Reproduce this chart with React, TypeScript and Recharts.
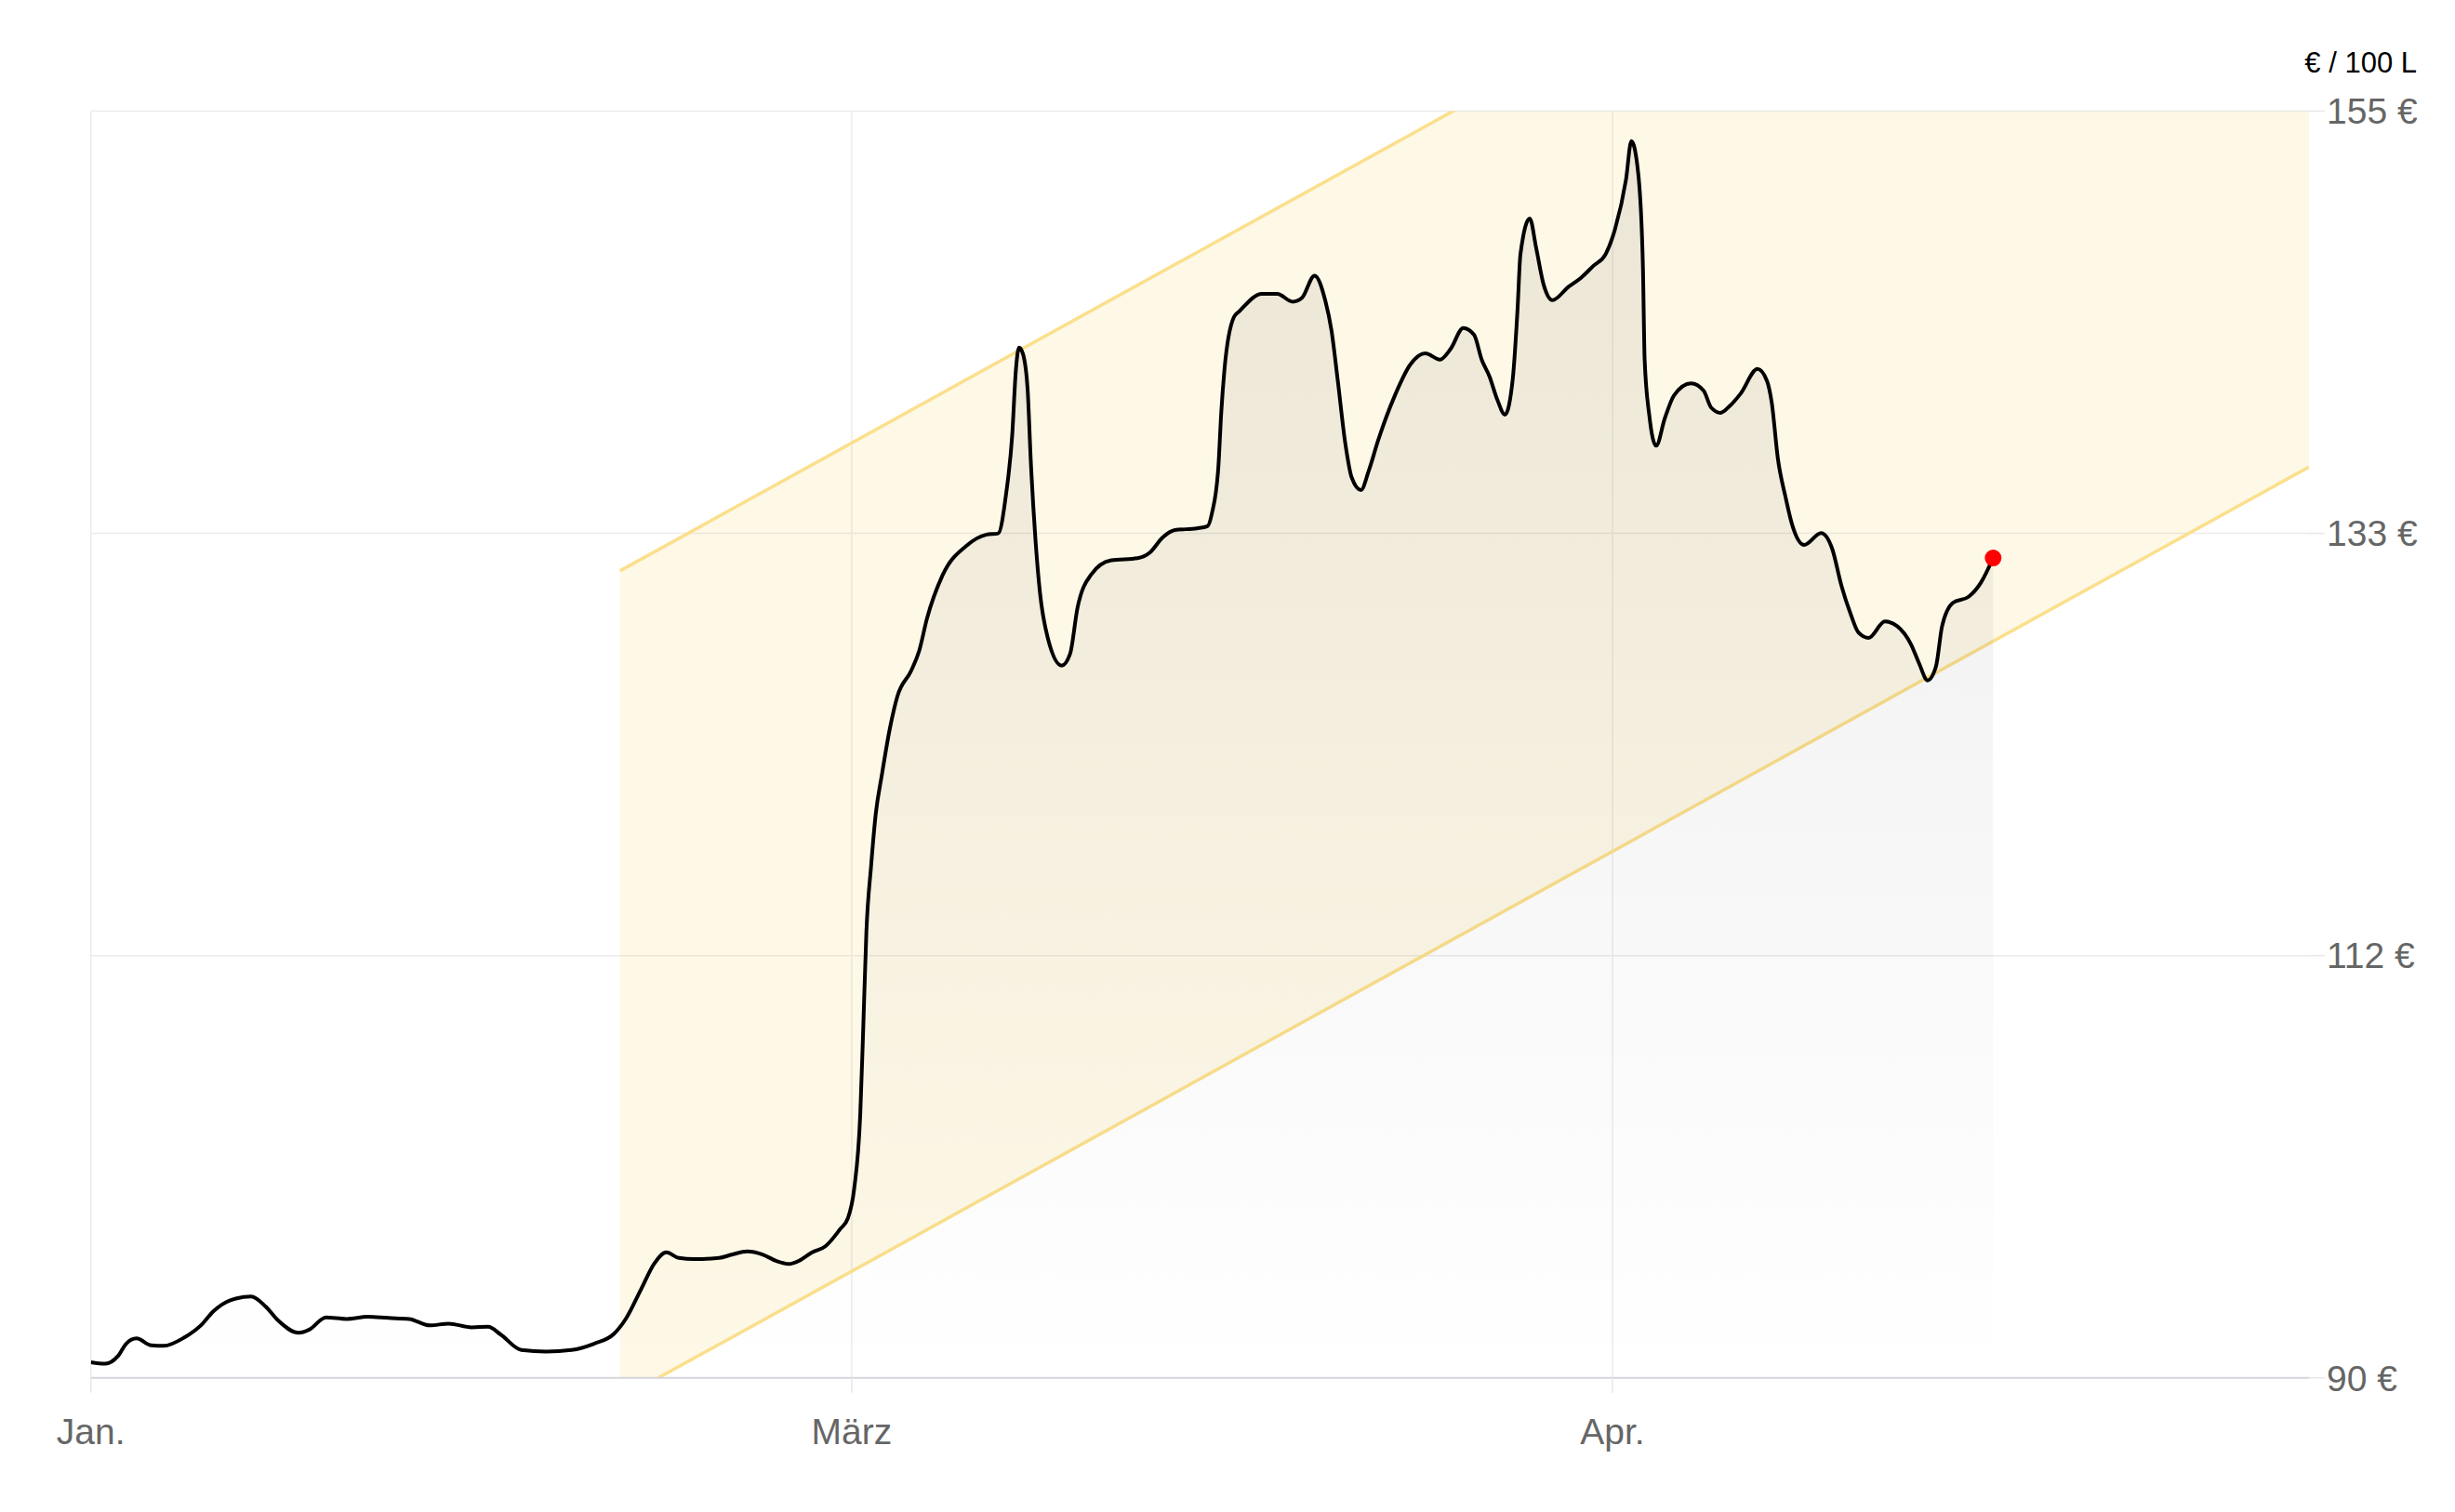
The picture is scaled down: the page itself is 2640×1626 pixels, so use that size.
import React from 'react';
import { ComposedChart, Area, XAxis, YAxis, CartesianGrid, ReferenceDot } from 'recharts';

// x = days from the left edge of the chart ("Jan.")
const priceDays = [
  0, 0.59, 1.10, 1.44, 1.86, 2.46, 2.97, 3.81, 4.49, 5.00,
  5.68, 6.53, 7.12, 7.63, 8.47, 8.90, 9.58, 10.42, 11.27, 12.12,
  12.97, 13.81, 14.58, 15.51, 16.19, 16.69, 17.54, 18.56, 19.58, 20.50,
  21.31, 21.81, 22.44, 22.95, 23.45, 23.96, 24.59, 25.60, 26.11, 26.74,
  27.37, 27.94, 28.44, 28.89, 29.39, 29.93, 30.53, 30.84, 31.10, 31.35,
  31.47, 31.60, 31.79, 31.98, 32.23, 32.55, 32.86, 33.43, 33.75, 34.07,
  34.69, 35.71, 36.47, 36.97, 37.29, 37.54, 37.69, 37.82, 37.98, 38.17,
  38.30, 38.49, 38.67, 38.99, 39.56, 39.90, 40.20, 40.76, 41.58, 42.65,
  43.16, 43.67, 44.17, 45.06, 45.50, 45.68, 45.94, 46.06, 46.19, 46.57,
  46.82, 47.71, 48.34, 48.97, 49.35, 49.86, 50.30, 50.55, 50.80, 51.12,
  51.37, 51.75, 52.07, 52.45, 53.12, 53.77, 54.38, 54.97, 55.41, 55.92,
  56.36, 56.67, 56.99, 57.31, 57.62, 57.94, 58.13, 58.25, 58.63, 58.89,
  59.20, 59.55, 60.21, 60.72, 61.22, 61.72, 62.10, 62.55, 62.77, 63.05,
  63.24, 63.31, 63.50, 63.78, 64.13, 64.51, 65.20, 65.71, 66.02, 66.40,
  66.78, 67.22, 67.91, 68.30, 68.49, 68.74, 69.05, 69.31, 69.81, 70.50,
  70.95, 71.33, 71.70, 72.02, 72.44, 73.10, 73.60, 74.17, 74.49, 74.84,
  75.18, 75.43, 75.87, 76.51, 77.01, 77.51,
];

const prices = [
  90.80, 90.72, 91.11, 91.75, 92.02, 91.67, 91.64, 92.07, 92.70, 93.42,
  93.98, 94.17, 93.66, 92.94, 92.31, 92.47, 93.10, 93.02, 93.13, 93.07,
  93.02, 92.69, 92.78, 92.59, 92.62, 92.23, 91.43, 91.35, 91.43, 91.75,
  92.25, 93.05, 94.60, 95.85, 96.44, 96.15, 96.09, 96.15, 96.32, 96.49,
  96.33, 95.99, 95.84, 96.03, 96.44, 96.75, 97.63, 98.17, 99.68, 103.53,
  107.88, 112.90, 116.25, 118.93, 120.94, 123.28, 124.96, 126.30, 127.30, 128.97,
  131.15, 132.73, 133.26, 133.33, 135.34, 138.35, 141.70, 142.87, 142.54, 140.70,
  137.00, 133.00, 130.32, 127.97, 126.55, 127.15, 129.50, 131.22, 131.95, 132.06,
  132.36, 133.12, 133.50, 133.59, 133.70, 134.37, 136.72, 139.56, 141.74, 144.42,
  144.76, 145.62, 145.62, 145.22, 145.42, 146.56, 145.26, 143.75, 141.24, 137.89,
  136.21, 135.56, 136.55, 138.10, 140.37, 142.01, 142.57, 142.25, 142.81, 143.87,
  143.52, 142.25, 141.38, 140.18, 139.42, 141.30, 144.80, 147.66, 149.49, 147.98,
  146.07, 145.30, 145.99, 146.45, 147.06, 147.66, 148.93, 151.48, 153.46, 151.79,
  147.02, 142.25, 139.39, 137.83, 139.23, 140.42, 141.03, 140.66, 139.79, 139.52,
  139.87, 140.50, 141.77, 141.14, 140.03, 137.16, 135.20, 133.82, 132.74, 133.35,
  132.55, 130.64, 129.21, 128.25, 127.97, 128.81, 128.57, 127.62, 126.67, 125.79,
  126.50, 128.57, 129.77, 130.08, 130.80, 132.07,
];

// trend channel (start and end of the band)
const bandDays = [21.56, 90.38];
const bandLow = [88.91, 136.74];
const bandHigh = [131.41, 179.24];

const xTicks = [0, 31, 62];
const xTickLabels = ['Jan.', 'März', 'Apr.'];
const yTicks = [90, 111.667, 133.333, 155];
const yTickLabels = ['90 €', '112 €', '133 €', '155 €'];
const unitLabel = '€ / 100 L';

const priceRows = priceDays.map((day, i) => ({ day, price: prices[i] }));
const bandRows = bandDays.map((day, i) => ({ day, band: [bandLow[i], bandHigh[i]] }));
const lastDay = priceDays[priceDays.length - 1];
const lastPrice = prices[prices.length - 1];

const UnitLabel = () => (
  <text x={2591} y={70} textAnchor="end" fill="#000" fontSize={31}>
    {unitLabel}
  </text>
);

export default function App() {
  return (
    <div style={{ width: 2620, height: 1600, fontFamily: '"Liberation Sans", Arial, sans-serif' }}>
      <ComposedChart width={2620} height={1600} margin={{ top: 111.5, right: 0, bottom: 0, left: 89.7 }}>
        <defs>
          <linearGradient id="priceFill" x1="0" y1="0" x2="0" y2="1">
            <stop offset="0%" stopColor="#000000" stopOpacity={0.075} />
            <stop offset="100%" stopColor="#000000" stopOpacity={0} />
          </linearGradient>
        </defs>
        <CartesianGrid stroke="#ebebef" strokeWidth={1.5} syncWithTicks />
        <XAxis
          dataKey="day"
          type="number"
          domain={[0, 90.38]}
          ticks={xTicks}
          interval={0}
          allowDataOverflow
          tickFormatter={(v: number) => xTickLabels[xTicks.indexOf(v)] ?? ''}
          height={126.3}
          axisLine={{ stroke: '#d5d5dc', strokeWidth: 2 }}
          tickLine={{ stroke: '#e6e6ec', strokeWidth: 1.5 }}
          tickSize={16}
          tickMargin={28}
          tick={{ fill: '#666666', fontSize: 39 }}
        />
        <YAxis
          orientation="right"
          type="number"
          domain={[90, 155]}
          ticks={yTicks}
          interval={0}
          allowDataOverflow
          tickFormatter={(v: number) => yTickLabels[yTicks.indexOf(v)] ?? ''}
          width={145}
          axisLine={false}
          tickLine={{ stroke: '#e6e6ec', strokeWidth: 1.5 }}
          tickSize={17}
          tickMargin={2}
          tick={{ fill: '#666666', fontSize: 39, textAnchor: 'start' }}
          label={<UnitLabel />}
        />
        <Area
          data={bandRows}
          dataKey="band"
          type="linear"
          stroke="#fbdf8c"
          strokeWidth={3.5}
          fill="#f5c842"
          fillOpacity={0.13}
          dot={false}
          activeDot={false}
          isAnimationActive={false}
        />
        <Area
          data={priceRows}
          dataKey="price"
          type="monotone"
          stroke="#000000"
          strokeWidth={4}
          fill="url(#priceFill)"
          fillOpacity={1}
          dot={false}
          activeDot={false}
          isAnimationActive={false}
        />
        <ReferenceDot x={lastDay} y={lastPrice} r={9} fill="#ff0000" stroke="none" />
      </ComposedChart>
    </div>
  );
}
